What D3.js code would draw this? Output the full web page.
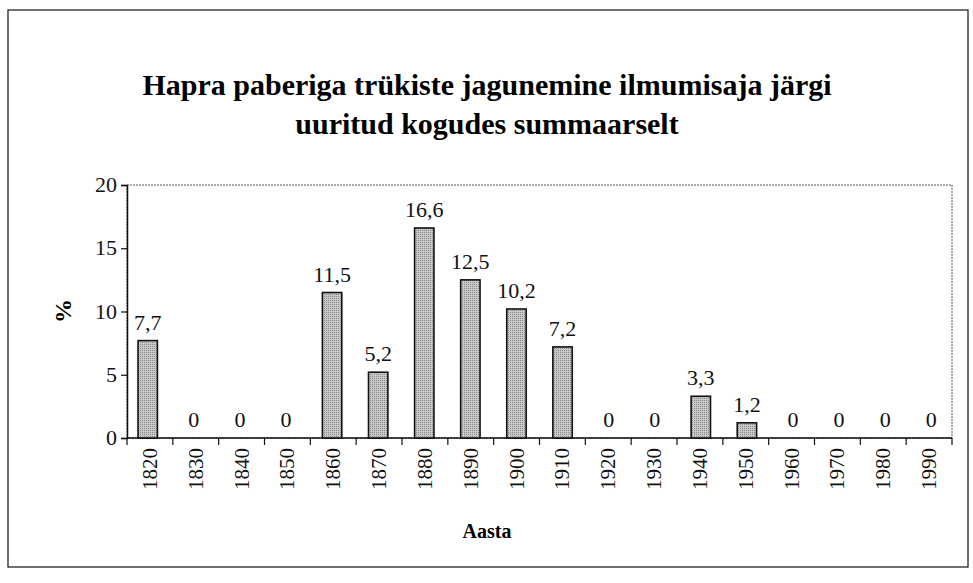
<!DOCTYPE html>
<html>
<head>
<meta charset="utf-8">
<script src="https://cdn.jsdelivr.net/npm/d3@7"></script>
</head>
<body style="margin:0">
<svg id="chart" width="973" height="583"></svg>
<script>
// data
const years = ["1820","1830","1840","1850","1860","1870","1880","1890","1900","1910",
               "1920","1930","1940","1950","1960","1970","1980","1990"];
const values = [7.7, 0, 0, 0, 11.5, 5.2, 16.6, 12.5, 10.2, 7.2, 0, 0, 3.3, 1.2, 0, 0, 0, 0];
const yTicks = [0, 5, 10, 15, 20];
const titleLines = ["Hapra paberiga trükiste jagunemine ilmumisaja järgi", "uuritud kogudes summaarselt"];

const FONT = "Liberation Serif";
const svg = d3.select("#chart");

// helper: serif text placed with a transform
function serif(sel) {
  return sel.attr("font-family", FONT).style("font-family", `"${FONT}"`);
}

// outer frame
svg.append("rect")
  .attr("x", 8).attr("y", 10)
  .attr("width", 960).attr("height", 557)
  .attr("fill", "none").attr("stroke", "#111").attr("stroke-width", 1.2);

// stipple pattern for bars
const pat = svg.append("defs").append("pattern")
  .attr("id", "dots").attr("width", 2).attr("height", 2)
  .attr("patternUnits", "userSpaceOnUse");
pat.append("rect").attr("width", 2).attr("height", 2).attr("fill", "#c8c8c8");
pat.append("rect").attr("width", 1).attr("height", 1).attr("fill", "#8a8a8a");

const plot = { left: 127, top: 185, right: 952, bottom: 438 };

const x = d3.scaleBand()
  .domain(years)
  .range([plot.left, plot.right])
  .paddingInner(0.58).paddingOuter(0.24);

const y = d3.scaleLinear()
  .domain([0, 20])
  .range([plot.bottom, plot.top]);

// plot area border
svg.append("rect")
  .attr("x", plot.left).attr("y", plot.top)
  .attr("width", plot.right - plot.left).attr("height", plot.bottom - plot.top)
  .attr("fill", "none").attr("stroke", "#555").attr("stroke-width", 1)
  .attr("stroke-dasharray", "2,1");

// title, one text per line
serif(svg.selectAll(".title")
  .data(titleLines)
  .enter().append("text"))
  .attr("transform", (d, i) => `translate(487,${95 + i * 39})`)
  .attr("text-anchor", "middle")
  .attr("font-size", 30).attr("font-weight", "bold")
  .text(d => d);

// y axis (line + ticks from d3, labels drawn by hand)
const yAxis = svg.append("g")
  .attr("transform", `translate(${plot.left},0)`)
  .call(d3.axisLeft(y).tickValues(yTicks).tickSize(6).tickFormat(""));
yAxis.select(".domain").attr("stroke", "#111").attr("stroke-width", 1.5);
yAxis.selectAll("line").attr("stroke", "#111").attr("stroke-width", 1.2);

serif(svg.selectAll(".ylbl")
  .data(yTicks)
  .enter().append("text"))
  .attr("transform", d => `translate(${plot.left - 10},${y(d) + 7})`)
  .attr("text-anchor", "end")
  .attr("font-size", 22)
  .attr("fill", "#111")
  .text(d => d);

// x axis: ticks between categories
const xAxis = svg.append("g")
  .attr("transform", `translate(0,${plot.bottom})`);
xAxis.append("line")
  .attr("x1", plot.left).attr("x2", plot.right)
  .attr("stroke", "#111").attr("stroke-width", 1.5);
const edges = d3.range(years.length + 1).map(i => plot.left + (plot.right - plot.left) * i / years.length);
xAxis.selectAll(".tk")
  .data(edges)
  .enter().append("line")
  .attr("x1", d => d).attr("x2", d => d)
  .attr("y1", 0).attr("y2", 7)
  .attr("stroke", "#111").attr("stroke-width", 1.2);

const bandCenter = (d, i) => plot.left + (plot.right - plot.left) * (i + 0.5) / years.length;

serif(xAxis.selectAll(".lbl")
  .data(years)
  .enter().append("text"))
  .attr("transform", (d, i) => `translate(${bandCenter(d, i) + 7},10) rotate(-90)`)
  .attr("text-anchor", "end")
  .attr("font-size", 21)
  .attr("fill", "#111")
  .text(d => d);

// bars
svg.selectAll(".bar")
  .data(values)
  .enter().append("rect")
  .attr("x", (d, i) => x(years[i]))
  .attr("y", d => y(d))
  .attr("width", x.bandwidth())
  .attr("height", d => y(0) - y(d))
  .attr("fill", "url(#dots)")
  .attr("stroke", d => d > 0 ? "#111" : "none")
  .attr("stroke-width", 1.6);

// value labels
serif(svg.selectAll(".val")
  .data(values)
  .enter().append("text"))
  .attr("transform", (d, i) => `translate(${x(years[i]) + x.bandwidth() / 2},${y(d) - 11})`)
  .attr("text-anchor", "middle")
  .attr("font-size", 22)
  .attr("fill", "#111")
  .text(d => String(d).replace(".", ","));

// axis titles
serif(svg.append("text"))
  .attr("transform", "translate(71,311) rotate(-90)")
  .attr("text-anchor", "middle")
  .attr("font-size", 24).attr("font-weight", "bold")
  .text("%");

serif(svg.append("text"))
  .attr("transform", "translate(487,538)")
  .attr("text-anchor", "middle")
  .attr("font-size", 20).attr("font-weight", "bold")
  .text("Aasta");
</script>
</body>
</html>
